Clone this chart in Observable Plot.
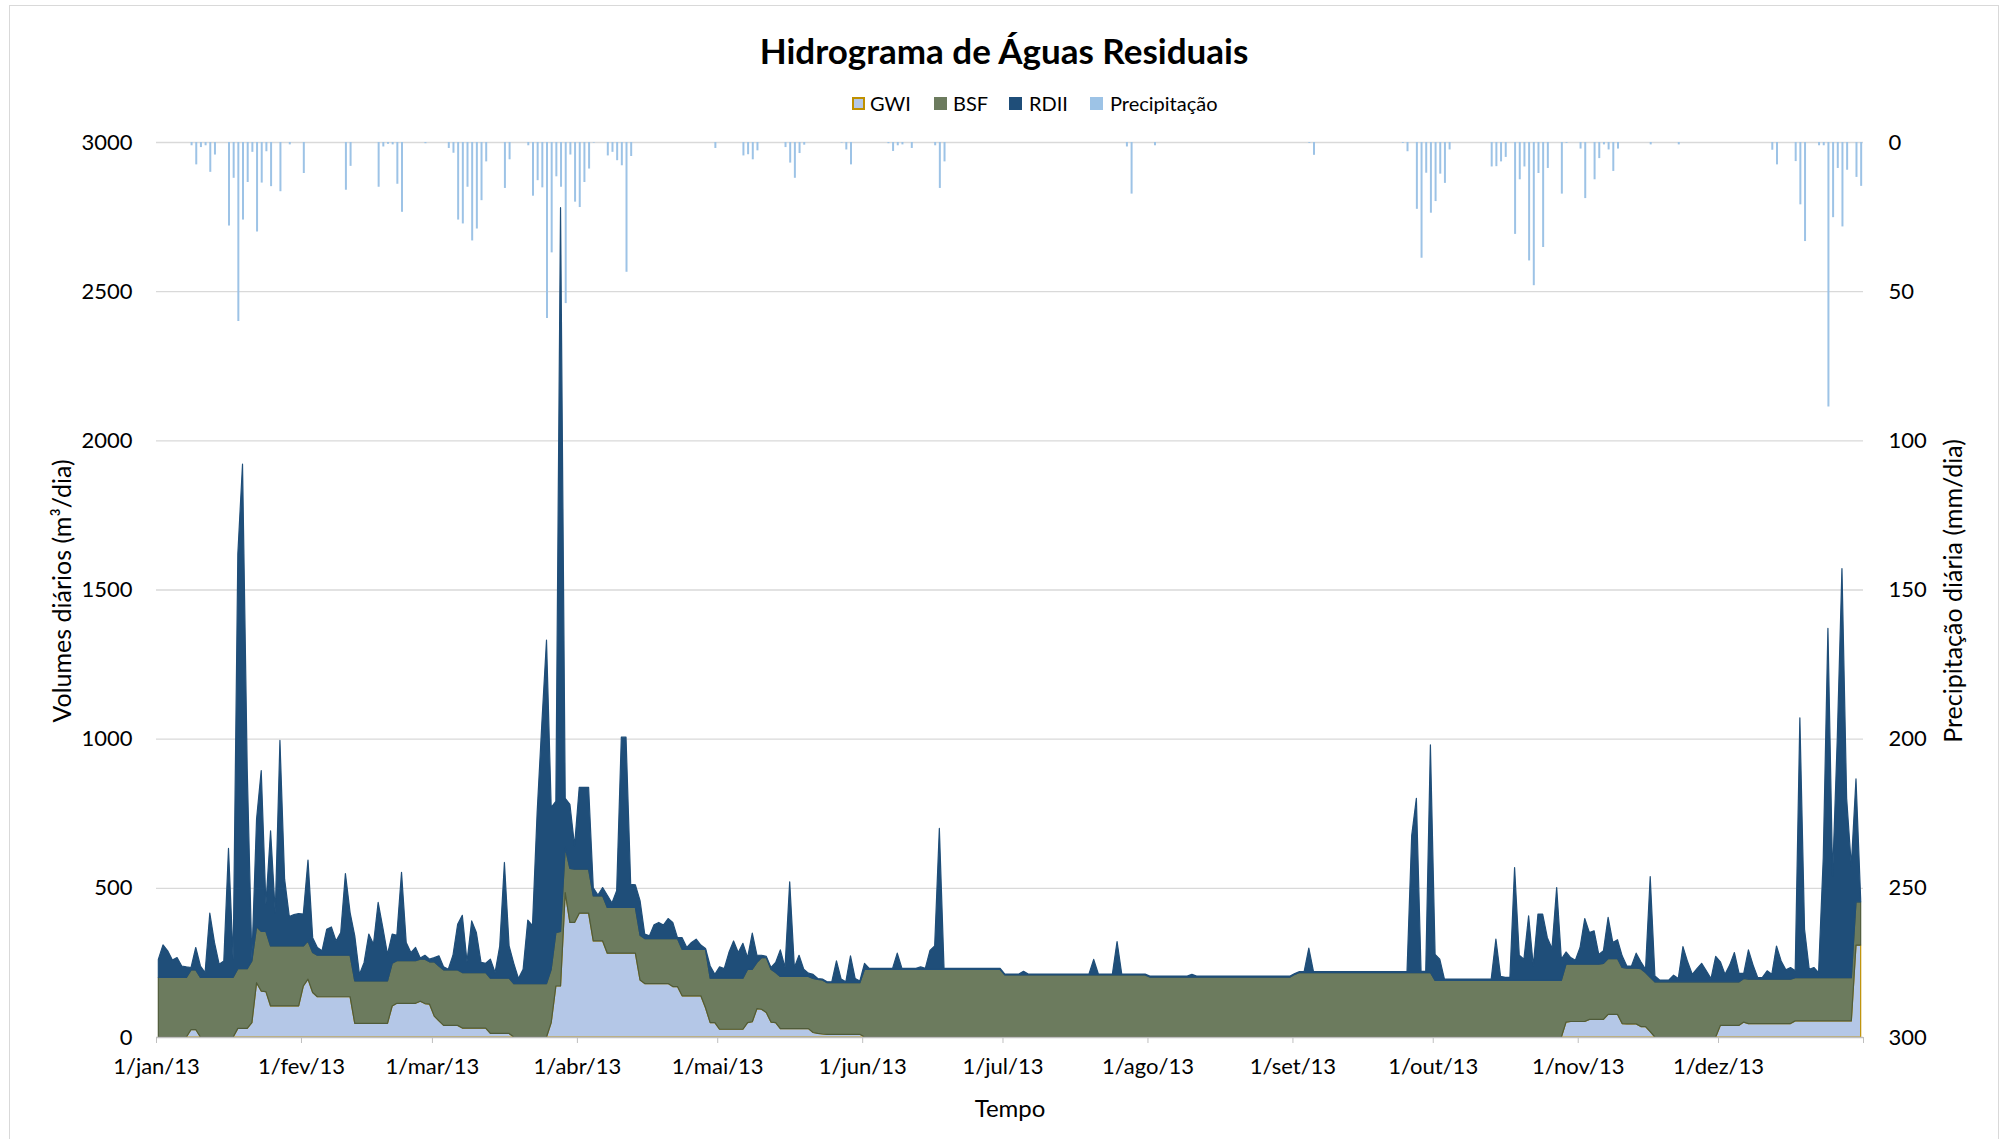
<!DOCTYPE html>
<html>
<head>
<meta charset="utf-8">
<script src="https://cdn.jsdelivr.net/npm/d3@7"></script>
<script src="https://cdn.jsdelivr.net/npm/@observablehq/plot@0.6"></script>
<style>
  body { margin: 0; background: #fff; font-family: Lato, "Open Sans", sans-serif; }
  #wrap { position: relative; width: 2008px; height: 1139px; overflow: hidden; background: #fff; }
  #frame { position: absolute; left: 9px; top: 5px; width: 1990px; height: 1160px; border: 1px solid #D9D9D9; box-sizing: border-box; }
  #header { position: relative; height: 120px; }
  #title { position: absolute; left: 0; top: 33px; width: 2008px; text-align: center; font-weight: 700; font-size: 35px; line-height: 35px; color: #000; }
  .leg { position: absolute; top: 93px; font-size: 20px; line-height: 20px; color: #000; white-space: nowrap; }
  .sw { position: absolute; top: 97px; width: 13px; height: 13px; box-sizing: border-box; }
  .ytitle { position: absolute; font-size: 25px; line-height: 25px; color: #000; white-space: nowrap; transform: translate(-50%, -50%) rotate(-90deg); }
  #xtitle { position: absolute; left: 1010px; top: 1096px; transform: translateX(-50%); font-size: 24px; line-height: 24px; color: #000; }
  #chart { position: absolute; left: 0; top: 120px; }
</style>
</head>
<body>
<div id="wrap">
  <div id="frame"></div>
  <div id="header">
    <div id="title">Hidrograma de Águas Residuais</div>
    <div class="sw" style="left:852px;background:#B4C7E7;border:2px solid #BF9000;"></div>
    <div class="leg" style="left:870px;">GWI</div>
    <div class="sw" style="left:934px;background:#6C7B5E;"></div>
    <div class="leg" style="left:953px;">BSF</div>
    <div class="sw" style="left:1009px;background:#1F4E79;"></div>
    <div class="leg" style="left:1029px;">RDII</div>
    <div class="sw" style="left:1090px;background:#9DC3E6;"></div>
    <div class="leg" style="left:1110px;">Precipitação</div>
  </div>
  <div id="chart"></div>
  <div class="ytitle" style="left:61px;top:591px;">Volumes diários (m³/dia)</div>
  <div class="ytitle" style="left:1952px;top:591px;">Precipitação diária (mm/dia)</div>
  <div id="xtitle">Tempo</div>
</div>
<script>
// ---- tick labels ----
const tickLabels = ["1/jan/13","1/fev/13","1/mar/13","1/abr/13","1/mai/13","1/jun/13","1/jul/13","1/ago/13","1/set/13","1/out/13","1/nov/13","1/dez/13"];
const volumeTicks = [0, 500, 1000, 1500, 2000, 2500, 3000];
const precipMax = 300; // right axis 0..300 mm/dia (reversed), shares the frame with 0..3000 m3/dia

// ---- daily series, 1 Jan 2013 .. 31 Dec 2013 (m3/dia) ----
const gwi = [
  // jan
  0,0,0,0,0,0,0,25,25,0, 0,0,0,0,0,0,0,29,29,29, 48,182,154,152,104,104,104,104,104,104, 104,
  // fev
  171,194,149,135,135,135,135,135,135,135, 135,46,46,46,46,46,46,46,46,104, 113,113,113,113,113,120,112,110,
  // mar
  70,54,39,39,39,39,30,30,30,30, 30,30,12,12,12,12,12,0,0,0, 0,0,0,0,0,48,171,171,484,384, 384,
  // abr
  415,415,415,322,322,322,281,281,281,281, 281,281,281,191,179,179,179,179,179,179, 169,169,138,138,138,138,138,98,48,48,
  // mai
  26,26,26,26,26,26,48,51,95,93, 82,50,48,28,28,28,28,28,28,28, 15,12,10,9,9,9,9,9,9,9, 9,
  // jun
  0,0,0,0,0,0,0,0,0,0, 0,0,0,0,0,0,0,0,0,0, 0,0,0,0,0,0,0,0,0,0,
  // jul
  0,0,0,0,0,0,0,0,0,0, 0,0,0,0,0,0,0,0,0,0, 0,0,0,0,0,0,0,0,0,0, 0,
  // ago
  0,0,0,0,0,0,0,0,0,0, 0,0,0,0,0,0,0,0,0,0, 0,0,0,0,0,0,0,0,0,0, 0,
  // set
  0,0,0,0,0,0,0,0,0,0, 0,0,0,0,0,0,0,0,0,0, 0,0,0,0,0,0,0,0,0,0,
  // out
  0,0,0,0,0,0,0,0,0,0, 0,0,0,0,0,0,0,0,0,0, 0,0,0,0,0,0,0,0,50,52, 52,
  // nov
  52,52,59,59,59,59,76,76,76,45, 44,44,44,35,35,18,0,0,0,0, 0,0,0,0,0,0,0,0,0,0,
  // dez
  39,39,39,39,39,50,45,45,45,45, 45,45,45,45,45,45,54,54,54,54, 54,54,54,54,54,54,54,54,54,308, 308
];
const bsf = [
  // jan
  200,200,200,200,200,200,200,200,200,200, 200,200,200,200,200,200,200,200,200,200, 207,188,200,202,201,201,201,201,201,201, 201,
  // fev
  134,128,134,139,139,139,139,139,139,139, 139,142,142,142,142,142,142,142,142,143, 143,143,143,143,143,141,149,142,
  // mar
  182,184,186,186,186,186,186,186,186,186, 186,186,185,185,185,185,185,179,179,179, 179,179,179,179,179,179,179,183,152,181, 179,
  // abr
  148,148,148,151,151,151,153,153,153,153, 153,153,153,150,151,151,151,151,151,151, 161,161,156,156,156,156,156,196,149,149,
  // mai
  171,171,171,171,171,171,179,176,155,173, 184,177,168,175,175,175,175,175,175,175, 181,181,181,173,173,173,173,173,173,173, 173,
  // jun
  227,227,227,227,227,227,227,227,227,227, 227,227,227,227,227,227,227,227,227,227, 227,227,227,227,227,227,227,227,227,227,
  // jul
  208,208,208,208,208,208,208,208,208,208, 208,208,208,208,208,208,208,208,208,208, 208,208,208,208,208,208,208,208,208,208, 208,
  // ago
  201,201,201,201,201,201,201,201,201,201, 201,201,201,201,201,201,201,201,201,201, 201,201,201,201,201,201,201,201,201,201, 201,
  // set
  210,216,216,216,216,216,216,216,216,216, 216,216,216,216,216,216,216,216,216,216, 216,216,216,216,216,216,216,216,216,216,
  // out
  190,190,190,190,190,190,190,190,190,190, 190,190,190,190,190,190,190,190,190,190, 190,190,190,190,190,190,190,190,194,192, 192,
  // nov
  192,192,185,185,185,188,187,187,187,188, 187,187,187,194,181,182,185,185,185,185, 185,185,185,185,185,185,185,185,185,185,
  // dez
  146,146,146,146,146,146,149,149,149,149, 149,149,149,149,149,149,145,145,145,145, 145,145,145,145,145,145,145,145,145,145, 145
];
const rdii = [
  // jan
  60,109,89,58,66,38,35,8,75,38, 16,215,117,44,55,432,60,1391,1691,671, 5,360,539,91,386,112,689,224,99,105, 109,
  // fev
  107,271,50,26,15,87,95,48,76,274, 143,151,22,62,157,123,263,179,89,98, 85,296,61,27,44,4,13,9,
  // mar
  14,34,10,2,49,153,192,36,173,134, 34,31,64,19,108,388,108,68,17,48, 213,194,574,871,1151,543,440,2426,164,215, 78,
  // abr
  274,274,274,27,3,28,41,15,56,571, 571,78,76,116,15,9,46,54,45,67, 54,3,39,6,23,34,14,3,41,13,
  // mai
  38,32,86,125,86,117,39,121,24,8, 4,6,34,89,30,317,30,71,24,11, 14,3,3,3,3,73,12,3,90,14, 6,
  // jun
  20,3,3,3,3,3,3,54,3,3, 3,3,8,3,63,78,472,3,3,3, 3,3,3,3,3,3,3,3,3,3,
  // jul
  3,3,3,3,12,3,3,3,3,3, 3,3,3,3,3,3,3,3,3,52, 3,3,3,3,112,3,3,3,3,3, 3,
  // ago
  3,3,3,3,3,3,3,3,3,9, 3,3,3,3,3,3,3,3,3,3, 3,3,3,3,3,3,3,3,3,3, 3,
  // set
  3,3,3,82,3,3,3,3,3,3, 3,3,3,3,3,3,3,3,3,3, 3,3,3,3,3,459,584,4,4,763,
  // out
  87,71,4,4,4,4,4,4,4,4, 4,4,4,138,13,10,10,378,84,71, 216,48,222,222,143,107,311,71,41,22, 13,
  // nov
  56,153,106,112,33,42,138,54,63,39, 7,7,50,23,11,338,20,6,6,6, 22,11,118,67,25,44,62,37,11,85,
  // dez
  67,25,56,98,28,17,98,47,5,6, 28,16,111,61,31,39,23,871,162,28, 34,17,401,1171,341,801,1371,601,375,412, 9
];
// daily precipitation (mm/dia)
const precip = [
  // jan
  0,0,0,0,0,0,0,1.1,7.5,1.7, 1.1,10,4.2,0,0,28,12,60,26,13.4, 3.3,30,13.6,3.1,14.8,0,16.5,0,0.8,0, 0,
  // fev
  10.4,0,0,0,0,0,0,0,0,16, 8,0,0,0,0,0,15,1.5,0.6,0.8, 14,23.4,0,0,0,0,0.4,0,
  // mar
  0,0,0,2,3.6,26,27.3,15,33,29, 19.5,6.5,0,0,0,15.4,5.8,0,0,0, 1.1,18,12.8,15.2,59,37,11.5,15,54,4.2, 20,
  // abr
  21.8,13.4,8.9,0.2,0,0,4.5,3.3,6.1,7.8, 43.5,4.7,0,0,0,0,0,0,0,0, 0,0,0,0,0,0,0,0,0,2,
  // mai
  0,0,0,0,0,4.5,4.1,5.8,2.8,0, 0,0,0,0,1.7,6.9,12,3.7,0.9,0, 0,0,0,0,0,0,0.2,2.5,7.5,0, 0,
  // jun
  0,0,0,0,0,0.4,3,1.1,0.8,0, 2,0,0,0,0,1.1,15.4,6.5,0,0, 0,0,0,0,0,0,0,0,0,0,
  // jul
  0,0,0,0,0,0,0,0,0,0, 0,0,0,0,0,0,0,0,0,0, 0,0,0,0,0,0,1.5,17.3,0,0, 0,
  // ago
  0,1.1,0,0,0,0,0,0,0,0, 0,0,0,0,0,0,0,0,0,0, 0,0,0,0,0,0,0,0,0,0, 0,
  // set
  0,0,0,0.3,4.3,0,0,0,0,0, 0,0,0,0,0,0,0,0,0,0, 0,0,0,0.3,3.1,0,22.4,38.8,10.3,23.7,
  // out
  19.8,10.6,13.7,2.5,0,0,0,0,0,0, 0,0,8.2,8.1,6.5,5,0,30.8,12.5,8.2, 39.7,48,10.4,35.2,8.7,0,0,17.3,0.3,0, 0,
  // nov
  2.2,18.8,0,12.5,5.4,0.8,2.5,9.7,2.2,0, 0,0,0,0,0,0.8,0,0,0,0, 0,0.8,0,0,0,0,0,0,0,0,
  // dez
  0,0,0,0,0,0,0,0,0,0, 0,2.6,7.5,0,0,0,6.4,20.9,33.2,0, 0,1.1,1.1,88.7,25.2,8.7,28.3,9.3,0,11.7, 14.7
];

// ---- build tables ----
const t0 = Date.UTC(2013, 0, 1);
const dayOf = i => new Date(t0 + (i + 0.5) * 864e5);
const seriesNames = ["GWI", "BSF", "RDII"];
const seriesValues = {GWI: gwi, BSF: bsf, RDII: rdii};
const fills = {GWI: "#B4C7E7", BSF: "#6C7B5E", RDII: "#1F4E79"};
const strokes = {GWI: "#BF9000", BSF: "#4F5B3A", RDII: "#1F4E79"};
const flows = seriesNames.flatMap(name => seriesValues[name].map((v, i) => ({date: dayOf(i), series: name, value: v})));
const rain = precip.map((p, i) => ({date: dayOf(i), p})).filter(d => d.p > 0);
const toVolumeFrame = p => 3000 - p * (3000 / precipMax);
const tickDates = d3.utcMonth.range(new Date(t0), new Date(Date.UTC(2014, 0, 2)));

const chart = Plot.plot({
  width: 2008,
  height: 1019,
  marginLeft: 156,
  marginRight: 145,
  marginTop: 22,
  marginBottom: 102,
  style: {fontFamily: "Lato, 'Open Sans', sans-serif", background: "transparent", color: "#000"},
  x: {type: "utc", domain: [new Date(t0), new Date(Date.UTC(2014, 0, 1))]},
  y: {domain: [0, 3000]},
  marks: [
    Plot.ruleY(volumeTicks.filter(v => v > 0), {stroke: "#D9D9D9", strokeWidth: 1.3}),
    Plot.areaY(flows, {
      x: "date", y: "value", z: "series",
      order: seriesNames,
      fill: d => fills[d.series],
      stroke: d => strokes[d.series],
      strokeWidth: 1.2
    }),
    Plot.ruleX(rain, {x: "date", y1: 3000, y2: d => toVolumeFrame(d.p), stroke: "#9DC3E6", strokeWidth: 2}),
    Plot.ruleY([0], {stroke: "#BFBFBF", strokeWidth: 1.3}),
    Plot.axisX(tickDates, {
      tickSize: 6, tickPadding: 15, stroke: "#BFBFBF", fill: "#000", fontSize: 22, label: null,
      tickFormat: d => (d.getUTCFullYear() === 2013 ? tickLabels[d.getUTCMonth()] : "")
    }),
    Plot.axisY(volumeTicks, {anchor: "left", tickSize: 0, tickPadding: 24, fontSize: 22, label: null, tickFormat: d => String(d)}),
    Plot.axisY(volumeTicks, {anchor: "right", tickSize: 0, tickPadding: 25, fontSize: 22, label: null,
      tickFormat: v => String(Math.round((3000 - v) * precipMax / 3000))})
  ]
});
document.getElementById("chart").appendChild(chart);
</script>
</body>
</html>
